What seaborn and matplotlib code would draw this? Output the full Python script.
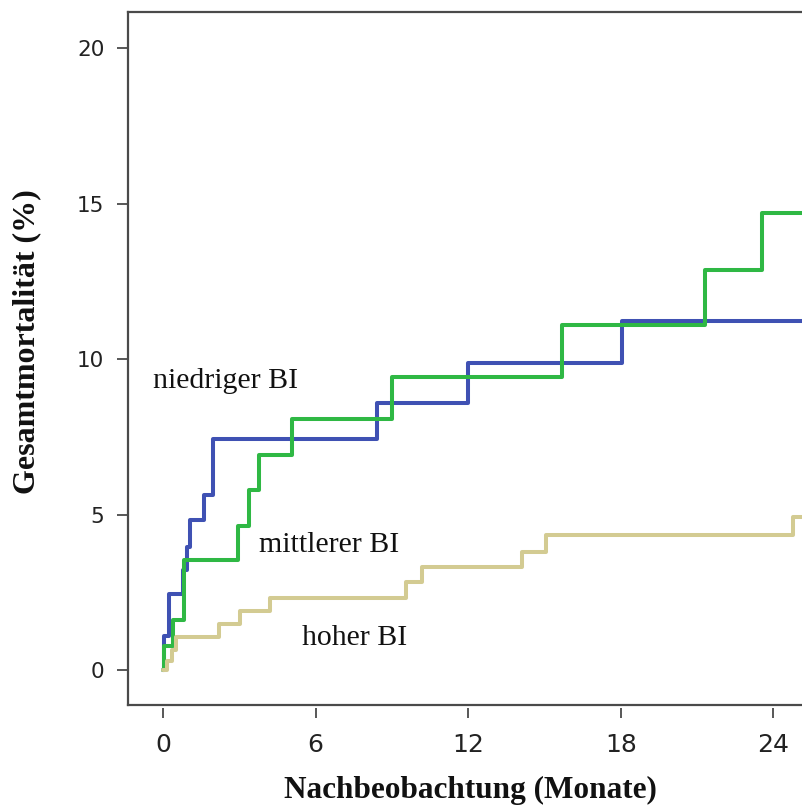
import pandas as pd
import numpy as np
from matplotlib import pyplot as plt
import seaborn as sns

# Kaplan-Meier style cumulative mortality (%) per group
monate_niedrig = [0, 0.06, 0.25, 0.78, 0.96, 1.06, 1.62, 1.97, 8.41, 12.0, 18.03, 26]
werte_niedrig = [0, 1.12, 2.47, 3.23, 3.98, 4.84, 5.64, 7.43, 8.61, 9.9, 11.25, 11.25]

monate_mittel = [0, 0.05, 0.38, 0.85, 2.97, 3.37, 3.76, 5.06, 9.0, 15.67, 21.3, 23.53, 26]
werte_mittel = [0, 0.8, 1.62, 3.55, 4.64, 5.8, 6.93, 8.08, 9.45, 11.1, 12.88, 14.72, 14.72]

monate_hoch = [0, 0.15, 0.35, 0.52, 2.2, 3.02, 4.2, 9.57, 10.2, 14.1, 15.05, 24.76, 26]
werte_hoch = [0, 0.3, 0.65, 1.07, 1.5, 1.92, 2.33, 2.85, 3.32, 3.8, 4.35, 4.95, 4.95]

gruppen = ['niedriger BI', 'mittlerer BI', 'hoher BI']
farben = ['#3F51B3', '#2FB844', '#D3CB92']
x_ticks = [0, 6, 12, 18, 24]
y_ticks = [0, 5, 10, 15, 20]

frames = []
for name, t, v in zip(gruppen, [monate_niedrig, monate_mittel, monate_hoch],
                      [werte_niedrig, werte_mittel, werte_hoch]):
    frames.append(pd.DataFrame({'monat': t, 'mortalitaet': v, 'gruppe': name}))
df = pd.concat(frames, ignore_index=True)

sns.set_style('white')

fig = plt.figure(figsize=(8.03, 8.08), dpi=100)
ax = fig.add_axes([128 / 803, 1 - 705 / 808, 675 / 803, 693 / 808])

sns.lineplot(data=df, x='monat', y='mortalitaet', hue='gruppe',
             palette=dict(zip(gruppen, farben)), hue_order=gruppen,
             drawstyle='steps-post', estimator=None, linewidth=2.9,
             legend=False, ax=ax)

ax.set_xlim(-1.37, 25.16)
ax.set_ylim(-1.11, 21.17)

spine_col = '#4a4a4a'
for s in ['left', 'bottom', 'top']:
    ax.spines[s].set_color(spine_col)
    ax.spines[s].set_linewidth(1.6)
ax.spines['right'].set_visible(False)

# y axis
ax.set_yticks(y_ticks)
ax.tick_params(axis='y', direction='out', length=8, width=1.3, color=spine_col,
               pad=9, labelsize=15.5, labelcolor='#222222', left=True)
for lab in ax.get_yticklabels():
    lab.set_family('DejaVu Sans')

# x axis ticks sit slightly below the spine
ax.set_xticks([])
sec = ax.secondary_xaxis(-0.005)
sec.set_xticks(x_ticks)
sec.spines['bottom'].set_visible(False)
sec.tick_params(axis='x', direction='out', length=7.5, width=1.3, color=spine_col,
                pad=10, labelsize=18, labelcolor='#222222')
for lab in sec.get_xticklabels():
    lab.set_family('DejaVu Sans')

ax.set_xlabel('')
ax.set_ylabel('')
fig.text(470 / 803, 1 - 776 / 808, 'Nachbeobachtung (Monate)', ha='center', va='top',
         family='Liberation Serif', fontweight='bold', fontsize=22.5, color='#111111')
fig.text(27 / 803, 1 - 342 / 808, 'Gesamtmortalität (%)', ha='center', va='center',
         rotation=90, family='Liberation Serif', fontweight='bold', fontsize=23,
         color='#111111')

# group labels
ax.text(-0.39, 9.31, 'niedriger BI', ha='left', va='center',
        family='Liberation Serif', fontsize=21.5, color='#111111')
ax.text(3.78, 4.04, 'mittlerer BI', ha='left', va='center',
        family='Liberation Serif', fontsize=21.5, color='#111111')
ax.text(5.47, 1.05, 'hoher BI', ha='left', va='center',
        family='Liberation Serif', fontsize=21.5, color='#111111')

fig.savefig('out.png', dpi=100)
